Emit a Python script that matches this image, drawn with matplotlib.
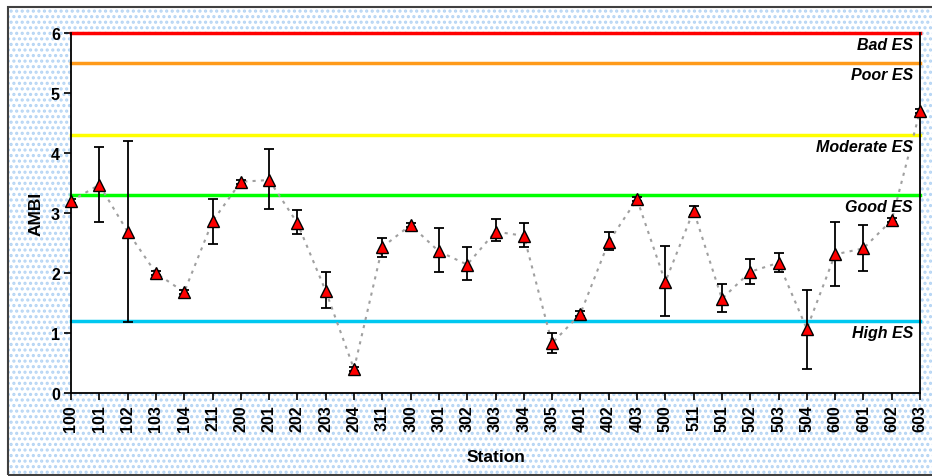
import matplotlib
matplotlib.use("Agg")
import matplotlib.pyplot as plt
import numpy as np
from matplotlib.patches import Rectangle

plt.rcParams['font.family'] = ['Liberation Sans', 'DejaVu Sans']
plt.rcParams['hatch.linewidth'] = 1.5

# AMBI per station: mean and error bar ends
stations = ['100', '101', '102', '103', '104', '211', '200', '201', '202', '203',
            '204', '311', '300', '301', '302', '303', '304', '305', '401', '402',
            '403', '500', '511', '501', '502', '503', '504', '600', '601', '602', '603']
ambi = [3.20, 3.47, 2.69, 2.00, 1.68, 2.86, 3.52, 3.55, 2.83, 1.70,
        0.40, 2.43, 2.80, 2.36, 2.14, 2.69, 2.62, 0.83, 1.32, 2.52,
        3.23, 1.85, 3.04, 1.57, 2.02, 2.17, 1.07, 2.31, 2.41, 2.88, 4.70]
upper = [3.24, 4.10, 4.20, 2.03, 1.71, 3.24, 3.55, 4.06, 3.05, 2.02,
         0.43, 2.58, 2.83, 2.75, 2.43, 2.90, 2.83, 1.00, 1.37, 2.68,
         3.26, 2.45, 3.12, 1.82, 2.23, 2.33, 1.72, 2.85, 2.80, 2.91, 4.73]
lower = [3.16, 2.85, 1.19, 1.97, 1.65, 2.48, 3.49, 3.07, 2.65, 1.42,
         0.37, 2.27, 2.77, 2.01, 1.88, 2.53, 2.44, 0.67, 1.29, 2.38,
         3.20, 1.28, 2.97, 1.35, 1.82, 2.01, 0.40, 1.78, 2.04, 2.85, 4.67]

# ecological status class boundaries
levels = [6.0, 5.5, 4.3, 3.3, 1.2]
level_names = ['Bad ES', 'Poor ES', 'Moderate ES', 'Good ES', 'High ES']
level_colors = ['#ff0000', '#ff9a1a', '#ffff00', '#00ff00', '#00c8f0']

fig = plt.figure(figsize=(9.32, 4.77), dpi=100)
fig.patch.set_facecolor('white')

# dotted chart-area background with a dark frame
bg = Rectangle((8 / 932, 1 / 477), 930 / 932, 468 / 477, transform=fig.transFigure,
               facecolor='white', edgecolor='#b4d4f4', hatch='...', lw=0, zorder=-10)
fig.patches.append(bg)
frame = Rectangle((8 / 932, 1 / 477), 930 / 932, 468 / 477, transform=fig.transFigure,
                  facecolor='none', edgecolor='#404040', lw=1.5, zorder=-9)
fig.patches.append(frame)

ax = fig.add_axes([71 / 932, 83 / 477, 849 / 932, 360 / 477])
ax.set_facecolor('white')

x = np.arange(len(stations))
a = np.array(ambi)
yerr = [a - np.array(lower), np.array(upper) - a]

for lev, name, col in zip(levels, level_names, level_colors):
    ax.axhline(lev, color=col, lw=2.5, zorder=2, clip_on=False)
    ax.text(len(stations) - 1.25, lev - 0.07, name, ha='right', va='top',
            fontsize=11.5, fontweight='bold', style='italic', zorder=5)

ax.plot(x, a, color='#a0a0a0', lw=1.5, ls=(0, (1.5, 2.5)), zorder=3)
ax.errorbar(x, a, yerr=yerr, fmt='none', ecolor='black', elinewidth=1.3,
            capsize=3.5, capthick=1.3, zorder=4)
ax.plot(x, a, ls='none', marker='^', markersize=9, markerfacecolor='#ff0000',
        markeredgecolor='black', markeredgewidth=1.0, zorder=6, clip_on=False)

ax.set_xlim(0, len(stations) - 1)
ax.set_ylim(0, 6)
ax.set_xticks(x)
ax.set_xticklabels(stations, rotation=90, fontsize=11.5, fontweight='bold')
ax.set_yticks(range(0, 7))
ax.set_yticklabels([str(v) for v in range(0, 7)], fontsize=11.5, fontweight='bold')
ax.tick_params(axis='both', direction='out', length=5, width=1.2, pad=3)

ax.spines['top'].set_visible(False)
for s in ['left', 'bottom', 'right']:
    ax.spines[s].set_linewidth(1.3)

ax.set_xlabel('Station', fontsize=12.5, fontweight='bold', labelpad=13)
ax.set_ylabel('AMBI', fontsize=12.5, fontweight='bold', labelpad=5)

fig.savefig('out.png', dpi=100)
